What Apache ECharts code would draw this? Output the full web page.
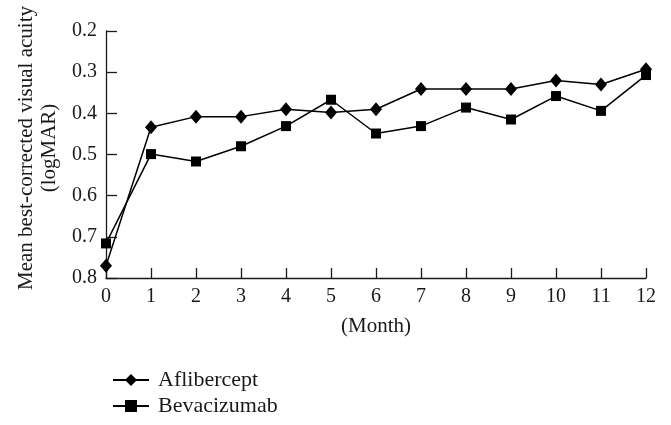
<!DOCTYPE html>
<html><head><meta charset="utf-8">
<script src="https://cdn.jsdelivr.net/npm/echarts@6/dist/echarts.min.js"></script>
<style>html,body{margin:0;padding:0;background:#fff}#c{width:671px;height:425px}</style>
</head><body><div id="c"></div>
<script>
const months = [0,1,2,3,4,5,6,7,8,9,10,11,12];
const aflibercept = [0.77,0.434,0.408,0.408,0.39,0.398,0.39,0.341,0.341,0.341,0.32,0.33,0.293];
const bevacizumab = [0.716,0.499,0.517,0.48,0.431,0.367,0.449,0.431,0.386,0.415,0.358,0.394,0.307];
const seriesNames = ['Aflibercept','Bevacizumab'];
const yTitle1 = 'Mean best-corrected visual acuity';
const yTitle2 = '(logMAR)';
const xTitle = '(Month)';

const FONT = '"Liberation Serif", "DejaVu Serif", serif';
const INK = '#1a1a1a';
const chart = echarts.init(document.getElementById('c'));
const pair = (arr) => months.map((m,i)=>[m, arr[i]]);
const legendBase = {orient:'vertical',left:107,itemWidth:36,itemHeight:15,
    textStyle:{color:INK,fontFamily:FONT,fontSize:22,padding:[0,0,0,4]}};
chart.setOption({
  animation:false,
  backgroundColor:'#fff',
  grid:{left:106,right:25,top:31,bottom:147,containLabel:false},
  xAxis:{type:'value',min:0,max:12,interval:1,
    axisLine:{lineStyle:{color:INK,width:1.3}},
    axisTick:{inside:true,length:10,lineStyle:{color:INK,width:1.3}},
    axisLabel:{color:INK,fontFamily:FONT,fontSize:20,margin:9},
    splitLine:{show:false}},
  yAxis:{type:'value',min:0.2,max:0.8,interval:0.1,inverse:true,
    axisLine:{show:true,lineStyle:{color:INK,width:1.3}},
    axisTick:{show:true,inside:true,length:11,lineStyle:{color:INK,width:1.3}},
    axisLabel:{color:INK,fontFamily:FONT,fontSize:20,margin:9,formatter:v=>v.toFixed(1)},
    splitLine:{show:false}},
  legend:[
    Object.assign({}, legendBase, {top:364, data:[seriesNames[0]]}),
    Object.assign({}, legendBase, {top:390, data:[seriesNames[1]]})
  ],
  graphic:[
    {type:'text',x:26,y:148,rotation:Math.PI/2,style:{text:yTitle1,fill:INK,font:'21px '+FONT,textAlign:'center',textVerticalAlign:'middle'}},
    {type:'text',x:49,y:148,rotation:Math.PI/2,style:{text:yTitle2,fill:INK,font:'21px '+FONT,textAlign:'center',textVerticalAlign:'middle'}},
    {type:'text',x:376,y:326,style:{text:xTitle,fill:INK,font:'21px '+FONT,textAlign:'center',textVerticalAlign:'middle'}}
  ],
  series:[
    {name:seriesNames[0],type:'line',data:pair(aflibercept),symbol:'diamond',symbolSize:[12,14],
      itemStyle:{color:'#000'},lineStyle:{color:'#000',width:1.5}},
    {name:seriesNames[1],type:'line',data:pair(bevacizumab),symbol:'rect',symbolSize:10,
      itemStyle:{color:'#000'},lineStyle:{color:'#000',width:1.5}}
  ]
});
</script></body></html>
